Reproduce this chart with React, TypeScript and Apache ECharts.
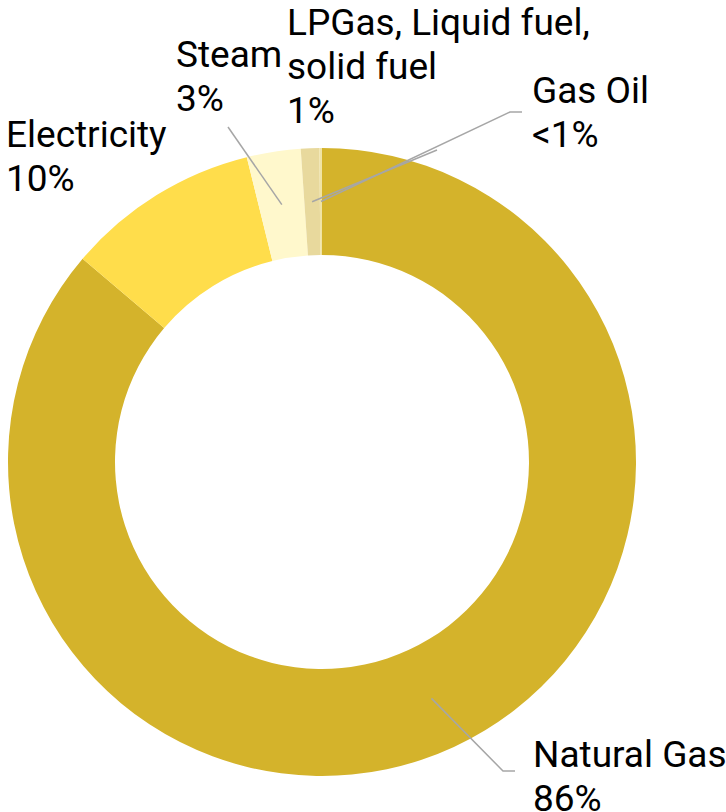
import React, { useEffect, useRef } from "react";
import * as echarts from "echarts";

// ---- data ----
const categories = ["Natural Gas", "Electricity", "Steam", "LPGas, Liquid fuel, solid fuel", "Gas Oil"];
const shares = [86.2, 9.95, 2.77, 0.95, 0.13];
const colors = ["#D4B32B", "#FFDD4B", "#FFF8CC", "#E8D99D", "#F0E3A4"];

// ---- layout (label placement and leader-line elbows, in px) ----
const CX = 322;
const CY = 462;
const R_IN = 207;
const R_OUT = 314;
const labelPos = [
  [533, 732],
  [6, 112],
  [176, 32],
  [287, 0],
  [532, 68],
];
const leaderEnds: (number[][] | null)[] = [
  [[503, 771], [515, 771]],
  null,
  [[228, 127]],
  [[437, 150]],
  [[510, 112], [522, 112]],
];

const pctText = (v: number) => (Math.round(v) < 1 ? "<1%" : Math.round(v) + "%");

export default function App() {
  const ref = useRef<HTMLDivElement>(null);
  useEffect(() => {
    if (!ref.current) return;
    const chart = echarts.init(ref.current, null, { renderer: "svg" });
    const total = shares.reduce((a, b) => a + b, 0);
    const cum: number[] = [];
    shares.reduce((acc, v) => {
      cum.push(acc + v / 2);
      return acc + v;
    }, 0);
    const rMid = (R_IN + R_OUT) / 2;

    const base = {
      type: "pie",
      center: [CX, CY],
      radius: [R_IN, R_OUT],
      startAngle: 90,
      clockwise: true,
      avoidLabelOverlap: false,
      silent: true,
    };

    chart.setOption({
      animation: false,
      backgroundColor: "#ffffff",
      series: [
        {
          ...base,
          z: 2,
          itemStyle: { borderWidth: 0 },
          label: { show: false },
          labelLine: { show: false },
          data: categories.map((name, i) => ({
            name,
            value: shares[i],
            itemStyle: { color: colors[i] },
          })),
        },
        {
          ...base,
          z: 5,
          itemStyle: { color: "rgba(0,0,0,0)", borderWidth: 0 },
          label: {
            show: true,
            position: "outside",
            fontFamily: "Roboto",
            fontSize: 37,
            lineHeight: 44,
            color: "#000000",
            formatter: (p: any) => `${p.name}\n${pctText(shares[p.dataIndex])}`,
          },
          labelLine: {
            show: true,
            showAbove: true,
            lineStyle: { color: "#A6A6A6", width: 1.5 },
          },
          labelLayout: (p: any) => {
            const i = p.dataIndex;
            const a = (cum[i] / total) * Math.PI * 2;
            const start = [CX + rMid * Math.sin(a), CY - rMid * Math.cos(a)];
            const ends = leaderEnds[i];
            const out: any = {
              x: labelPos[i][0],
              y: labelPos[i][1],
              align: "left",
              verticalAlign: "top",
            };
            if (ends) {
              const pts = [start, ...ends];
              while (pts.length < 3) pts.push(pts[pts.length - 1]);
              out.labelLinePoints = pts;
            }
            return out;
          },
          data: categories.map((name, i) => ({
            name,
            value: shares[i],
            label: i === 3 ? { width: 335, overflow: "break" } : {},
            labelLine: {
              show: leaderEnds[i] !== null,
              showAbove: true,
              lineStyle: { color: "#A6A6A6", width: 1.5 },
            },
          })),
        },
      ],
    });
    return () => chart.dispose();
  }, []);
  return (
    <div
      ref={ref}
      style={{ position: "fixed", left: 0, top: 0, width: 726, height: 812, background: "#fff" }}
    />
  );
}
